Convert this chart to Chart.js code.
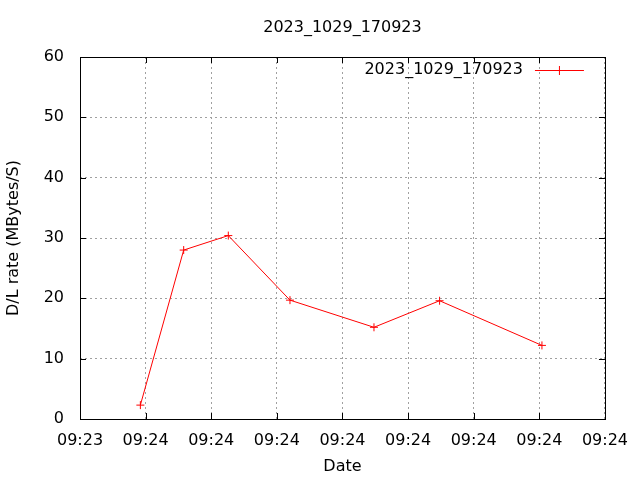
<!DOCTYPE html>
<html>
<head>
<meta charset="utf-8">
<script src="https://cdn.jsdelivr.net/npm/chart.js@4"></script>
<style>
  html, body { margin: 0; padding: 0; background: #fff; }
  #wrap { width: 640px; height: 480px; }
</style>
</head>
<body>
<div id="wrap"><canvas id="myChart" width="640" height="480"></canvas></div>
<script>
// seconds after 09:23:55 for each sample
const seconds = [4.6, 7.9, 11.3, 16.0, 22.4, 27.4, 35.2]
const rates = [2.3, 28.0, 30.4, 19.7, 15.2, 19.6, 12.2]
const xTickLabels = ['09:23', '09:24', '09:24', '09:24', '09:24', '09:24', '09:24', '09:24', '09:24']
const seriesName = '2023_1029_170923'

const FONT = 'DejaVu Sans'
Chart.defaults.font.family = FONT
Chart.defaults.font.size = 16
Chart.defaults.color = '#000'

// gnuplot style frame: black border, inward ticks on all four sides, title over the plot, key in the corner
const frame = {
    id: 'frame',
    afterDatasetsDraw(chart) {
        const { ctx, chartArea: a, scales } = chart
        ctx.save()
        ctx.strokeStyle = '#000'
        ctx.lineWidth = 1
        ctx.beginPath()
        scales.x.ticks.forEach(t => {
            const px = Math.round(scales.x.getPixelForValue(t.value)) + 0.5
            ctx.moveTo(px, a.bottom); ctx.lineTo(px, a.bottom - 6)
            ctx.moveTo(px, a.top); ctx.lineTo(px, a.top + 6)
        })
        scales.y.ticks.forEach(t => {
            const py = Math.round(scales.y.getPixelForValue(t.value)) + 0.5
            ctx.moveTo(a.left, py); ctx.lineTo(a.left + 6, py)
            ctx.moveTo(a.right, py); ctx.lineTo(a.right - 6, py)
        })
        ctx.stroke()
        ctx.strokeRect(Math.round(a.left) + 0.5, Math.round(a.top) + 0.5, Math.round(a.right - a.left), Math.round(a.bottom - a.top))

        ctx.font = '16px ' + FONT
        ctx.fillStyle = '#000'
        ctx.textBaseline = 'middle'

        // title
        ctx.textAlign = 'center'
        ctx.fillText(seriesName, (a.left + a.right) / 2, 28)

        // key
        const ds = chart.data.datasets[0]
        const ly = a.top + 13
        ctx.textAlign = 'right'
        ctx.fillText(ds.label, a.right - 82, ly)
        ctx.strokeStyle = ds.borderColor
        ctx.beginPath()
        ctx.moveTo(a.right - 70, ly + 0.5); ctx.lineTo(a.right - 21, ly + 0.5)
        ctx.moveTo(a.right - 45.5, ly - 4); ctx.lineTo(a.right - 45.5, ly + 5)
        ctx.stroke()
        ctx.restore()
    }
}

const ctx = document.getElementById('myChart')
new Chart(ctx, {
    type: 'line',
    data: {
        datasets: [{
            label: seriesName,
            data: seconds.map((s, i) => ({ x: s, y: rates[i] })),
            borderColor: '#ff0000',
            backgroundColor: '#ff0000',
            borderWidth: 1,
            pointStyle: 'cross',
            pointRadius: 4,
            pointBorderWidth: 1,
            tension: 0
        }]
    },
    options: {
        responsive: false,
        animation: false,
        layout: { padding: { left: 0, right: 34, top: 57, bottom: 0 } },
        plugins: {
            legend: { display: false },
            tooltip: { enabled: false },
            title: { display: false }
        },
        scales: {
            x: {
                type: 'linear',
                min: 0,
                max: 40,
                afterFit: s => { s.height = 61 },
                ticks: {
                    stepSize: 5,
                    padding: 12,
                    maxRotation: 0,
                    autoSkip: false,
                    callback: (v, i) => xTickLabels[i]
                },
                grid: { color: '#a0a0a0', drawTicks: false },
                border: { display: false, dash: [2, 3] },
                title: { display: true, text: 'Date', padding: { top: 0, bottom: 3.6 } }
            },
            y: {
                min: 0,
                max: 60,
                afterFit: s => { s.width = 80 },
                ticks: { stepSize: 10, padding: 16 },
                grid: { color: '#a0a0a0', drawTicks: false },
                border: { display: false, dash: [2, 3] },
                title: { display: true, text: 'D/L rate (MBytes/S)', padding: { top: 4.4, bottom: 0 } }
            }
        }
    },
    plugins: [frame]
})
</script>
</body>
</html>
